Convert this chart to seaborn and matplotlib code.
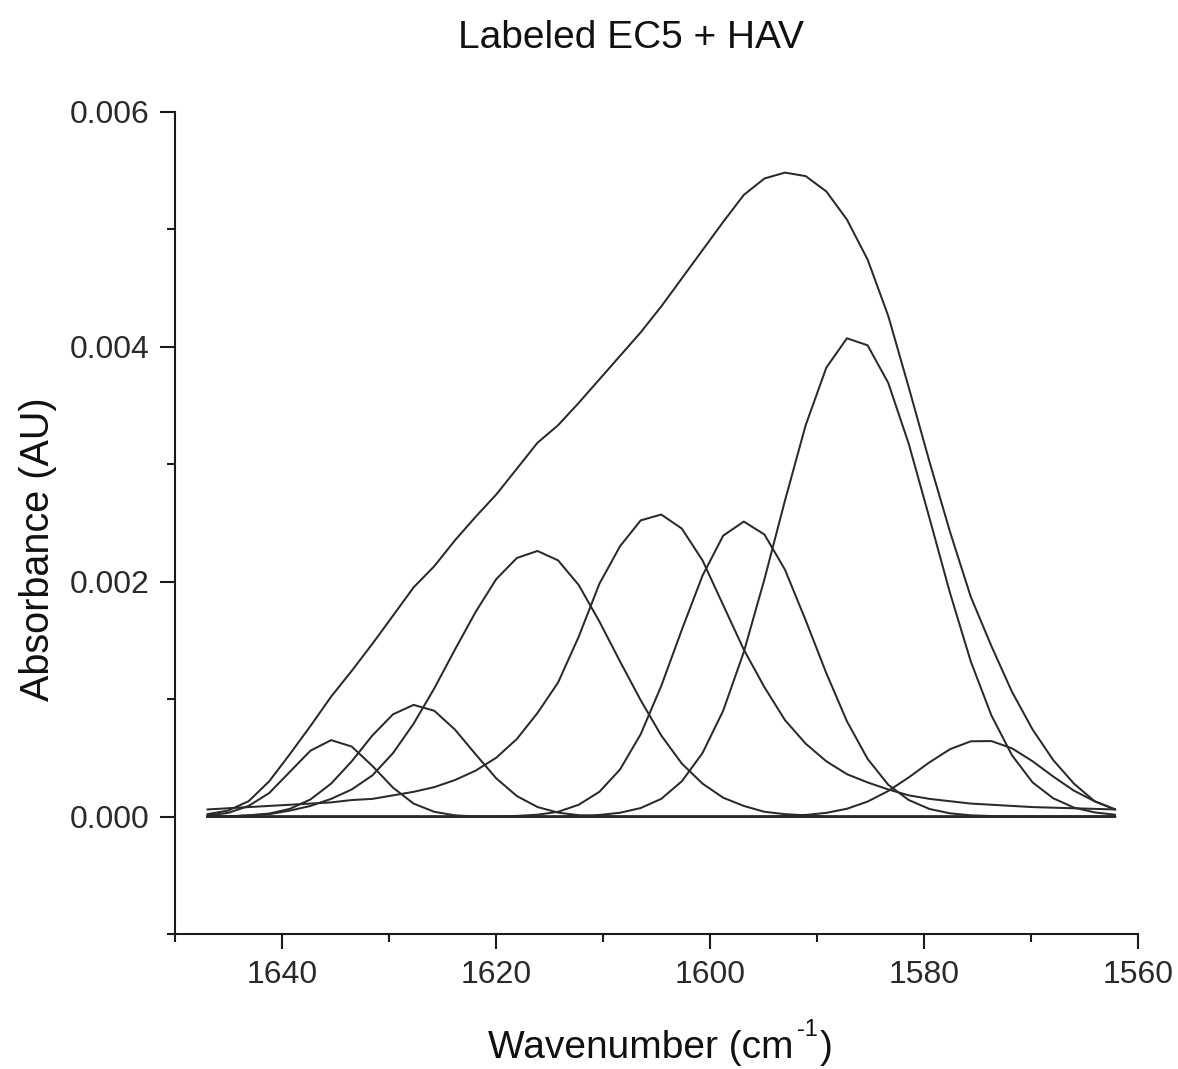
import numpy as np
import pandas as pd
import matplotlib
matplotlib.use("Agg")
import matplotlib.pyplot as plt
import seaborn as sns
from matplotlib.ticker import MultipleLocator, FormatStrFormatter

# ---- data (absorbance values in units of 0.001 AU) ----
wavenumber = [1646.98, 1645.05, 1643.12, 1641.19, 1639.27, 1637.34, 1635.41, 1633.48,
              1631.55, 1629.62, 1627.70, 1625.77, 1623.84, 1621.91, 1619.98, 1618.05,
              1616.13, 1614.20, 1612.27, 1610.34, 1608.41, 1606.48, 1604.56, 1602.63,
              1600.70, 1598.77, 1596.84, 1594.91, 1592.99, 1591.06, 1589.13, 1587.20,
              1585.27, 1583.34, 1581.42, 1579.49, 1577.56, 1575.63, 1573.70, 1571.77,
              1569.85, 1567.92, 1565.99, 1564.06, 1562.13]

peak_1635 = [0.01, 0.03, 0.09, 0.20, 0.38, 0.56, 0.65, 0.595, 0.43, 0.245, 0.11, 0.04,
             0.01, 0.0] + [0.0] * 31

peak_1627 = [0.0, 0.0, 0.01, 0.025, 0.065, 0.145, 0.28, 0.47, 0.69, 0.87, 0.95, 0.90,
             0.74, 0.53, 0.325, 0.174, 0.081, 0.033, 0.011, 0.003] + [0.0] * 25

peak_1616 = [0.0, 0.0, 0.01, 0.02, 0.05, 0.09, 0.15, 0.23, 0.35, 0.54, 0.79, 1.09,
             1.42, 1.74, 2.02, 2.20, 2.26, 2.18, 1.97, 1.66, 1.32, 0.99, 0.69, 0.45,
             0.28, 0.16, 0.09, 0.04, 0.02, 0.01] + [0.0] * 15

peak_1604 = [0.06, 0.07, 0.08, 0.09, 0.10, 0.11, 0.12, 0.14, 0.15, 0.18, 0.21, 0.25,
             0.31, 0.39, 0.50, 0.66, 0.88, 1.14, 1.53, 1.98, 2.30, 2.52, 2.57, 2.45,
             2.18, 1.80, 1.42, 1.10, 0.82, 0.62, 0.47, 0.36, 0.29, 0.23, 0.18, 0.15,
             0.13, 0.11, 0.10, 0.09, 0.08, 0.075, 0.07, 0.065, 0.06]

peak_1597 = [0.0] * 15 + [0.005, 0.015, 0.04, 0.10, 0.21, 0.40, 0.70, 1.11, 1.59, 2.05,
             2.39, 2.51, 2.40, 2.10, 1.67, 1.22, 0.81, 0.49, 0.27, 0.14, 0.064, 0.027,
             0.01, 0.004] + [0.0] * 6

peak_1587 = [0.0] * 18 + [0.005, 0.013, 0.032, 0.072, 0.15, 0.30, 0.54, 0.90, 1.40, 2.02,
             2.69, 3.33, 3.82, 4.07, 4.01, 3.69, 3.17, 2.54, 1.90, 1.32, 0.86, 0.52,
             0.29, 0.155, 0.076, 0.035, 0.015]

peak_1575 = [0.0] * 28 + [0.005, 0.013, 0.031, 0.066, 0.127, 0.217, 0.333, 0.461, 0.573,
             0.64, 0.642, 0.58, 0.47, 0.34, 0.22, 0.13, 0.06]

fit_sum = [0.02, 0.05, 0.13, 0.30, 0.53, 0.77, 1.02, 1.24, 1.47, 1.71, 1.95, 2.13,
           2.35, 2.55, 2.74, 2.96, 3.18, 3.33, 3.52, 3.72, 3.92, 4.12, 4.34, 4.58,
           4.82, 5.06, 5.29, 5.43, 5.48, 5.45, 5.32, 5.08, 4.74, 4.26, 3.65, 3.02,
           2.42, 1.87, 1.45, 1.06, 0.74, 0.48, 0.28, 0.13, 0.06]

baseline = [0.0] * 45

curves = {
    "baseline": baseline,
    "1635": peak_1635,
    "1627": peak_1627,
    "1616": peak_1616,
    "1604": peak_1604,
    "1597": peak_1597,
    "1587": peak_1587,
    "1575": peak_1575,
    "sum": fit_sum,
}

frames = []
for name, vals in curves.items():
    frames.append(pd.DataFrame({
        "wavenumber": wavenumber,
        "absorbance": np.asarray(vals, dtype=float) * 1e-3,
        "curve": name,
    }))
df = pd.concat(frames, ignore_index=True)

# ---- style ----
sns.set_theme(style="white")
plt.rcParams['font.family'] = ['Liberation Sans', 'DejaVu Sans']

W, H = 1178, 1069
fig = plt.figure(figsize=(W / 100, H / 100), dpi=100)
ax = fig.add_axes([175 / W, 135 / H, 963 / W, 822.5 / H])

line_color = "#2a2a2a"
sns.lineplot(data=df, x="wavenumber", y="absorbance", units="curve",
             estimator=None, color=line_color, linewidth=1.45, ax=ax,
             legend=False)

ax.set_xlim(1650, 1560)
ax.set_ylim(-0.001, 0.006)

ax.xaxis.set_major_locator(MultipleLocator(20))
ax.xaxis.set_minor_locator(MultipleLocator(10))
ax.yaxis.set_major_locator(MultipleLocator(0.002))
ax.yaxis.set_minor_locator(MultipleLocator(0.001))
ax.yaxis.set_major_formatter(FormatStrFormatter("%.3f"))
ax.xaxis.set_major_formatter(FormatStrFormatter("%d"))

for side in ["top", "right"]:
    ax.spines[side].set_visible(False)
for side in ["left", "bottom"]:
    ax.spines[side].set_linewidth(1.5)
    ax.spines[side].set_color("#1a1a1a")

ax.tick_params(which="both", bottom=True, left=True, top=False, right=False)
ax.tick_params(which="major", direction="out", length=10.5, width=1.5,
               color="#1a1a1a", labelsize=23, labelcolor="#2a2a2a", pad=8)
ax.tick_params(which="minor", direction="out", length=5.5, width=1.5,
               color="#1a1a1a")
ax.set_xlabel("")
ax.set_ylabel("")
ax.grid(False)

fig.text(631 / W, 1 - 38 / H, "Labeled EC5 + HAV", ha="center", va="center",
         fontsize=28, color="#111111")
fig.text(38 / W, 1 - 549 / H, "Absorbance (AU)", rotation=90, ha="center",
         va="center", fontsize=28.5, color="#111111")

# x-axis label assembled from pieces so the superscript uses a short hyphen
renderer = fig.canvas.get_renderer()
x_start = 488 / W
y_base = 1 - 1058 / H
t1 = fig.text(x_start, y_base, "Wavenumber (cm", ha="left", va="baseline",
              fontsize=28, color="#111111")
bb1 = t1.get_window_extent(renderer)
t2 = fig.text((bb1.x1 + 3) / W, 1 - 1036 / H, "-1", ha="left", va="baseline",
              fontsize=17, color="#111111")
bb2 = t2.get_window_extent(renderer)
fig.text((bb2.x1 + 2) / W, y_base, ")", ha="left", va="baseline",
         fontsize=28, color="#111111")

fig.savefig("out.png", dpi=100, facecolor="white")
